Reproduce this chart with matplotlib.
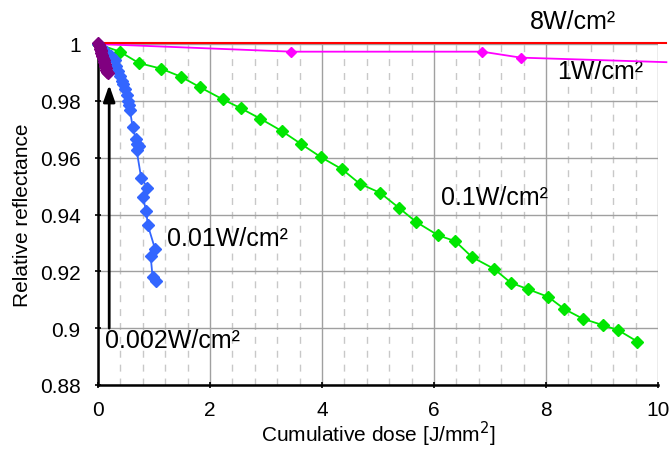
import matplotlib
matplotlib.use("Agg")
import matplotlib.pyplot as plt
from matplotlib.ticker import MultipleLocator

plt.rcParams["font.family"] = ["Liberation Sans", "DejaVu Sans"]

# 8 W/cm2
red_x = [0.0, 10.15]
red_y = [1.0005, 1.0005]

# 1 W/cm2
mag_x = [0.0, 3.45, 6.86, 7.55, 10.15]
mag_y = [1.0, 0.9973, 0.9973, 0.9952, 0.9936]

# 0.1 W/cm2
green_x = [0.0, 0.39, 0.73, 1.13, 1.48, 1.82, 2.23, 2.55, 2.90, 3.28, 3.62, 3.98,
           4.36, 4.67, 5.04, 5.37, 5.68, 6.07, 6.38, 6.68, 7.07, 7.37, 7.68, 8.04,
           8.33, 8.66, 9.01, 9.29, 9.63]
green_y = [1.0, 0.9973, 0.9933, 0.9913, 0.9885, 0.9848, 0.9805, 0.9774, 0.9737,
           0.9694, 0.9649, 0.9602, 0.9559, 0.9509, 0.9476, 0.9424, 0.9374, 0.9327,
           0.9306, 0.9250, 0.9209, 0.9160, 0.9137, 0.9110, 0.9067, 0.9033, 0.9011,
           0.8993, 0.8953]

# 0.01 W/cm2
blue_x = [0.0, 0.08, 0.15, 0.23, 0.30, 0.32, 0.35, 0.39, 0.42, 0.45, 0.48, 0.51,
          0.53, 0.56, 0.57, 0.62, 0.67, 0.70, 0.74, 0.69, 0.77, 0.88, 0.80, 0.86,
          0.89, 1.02, 0.94, 0.975, 1.03]
blue_y = [1.0, 0.9985, 0.9972, 0.9959, 0.9942, 0.9924, 0.9906, 0.9889, 0.9871,
          0.9860, 0.9842, 0.9819, 0.9801, 0.9784, 0.9766, 0.9708, 0.9667, 0.9649,
          0.9640, 0.9626, 0.9530, 0.9495, 0.9462, 0.9413, 0.9362, 0.9278, 0.9254,
          0.9179, 0.9167]

# 0.002 W/cm2
purple_x = [0.0, 0.01, 0.02, 0.03, 0.04, 0.05, 0.05, 0.06, 0.07, 0.08, 0.09, 0.10,
            0.11, 0.12, 0.13, 0.14, 0.15, 0.16, 0.17]
purple_y = [1.0005, 0.9998, 0.9995, 0.9990, 0.9984, 0.9980, 0.9975, 0.9970, 0.9963,
            0.9957, 0.9950, 0.9944, 0.9936, 0.9930, 0.9922, 0.9915, 0.9908, 0.9902,
            0.9897]

fig = plt.figure(figsize=(6.72, 4.52), dpi=100)
ax = fig.add_axes([98 / 672, 1 - 386 / 452, 560 / 672, 341 / 452])

ax.set_xlim(0, 10)
ax.set_ylim(0.88, 1.0)
ax.xaxis.set_major_locator(MultipleLocator(2))
ax.xaxis.set_minor_locator(MultipleLocator(0.4))
ax.yaxis.set_major_locator(MultipleLocator(0.02))
ax.yaxis.set_major_formatter(plt.FuncFormatter(lambda v, p: f"{v:g}"))

ax.grid(which="major", color="#a0a0a0", linewidth=1.0)
ax.grid(which="minor", axis="x", color="#c8c8c8", linewidth=1.0, linestyle=(0, (5, 5)))
ax.set_axisbelow(True)

for s in ["top", "right"]:
    ax.spines[s].set_visible(False)
for s in ["left", "bottom"]:
    ax.spines[s].set_linewidth(1.8)
    ax.spines[s].set_color("black")

ax.tick_params(which="major", direction="inout", length=5, width=1.2, labelsize=15)
ax.tick_params(axis="x", pad=8)
ax.tick_params(axis="y", pad=10)
ax.tick_params(which="minor", length=0)

ax.plot(red_x, red_y, color="#ff0000", linewidth=1.5, clip_on=False, zorder=5)
ax.plot(mag_x, mag_y, color="#ff00ff", linewidth=1.3, marker="D", markersize=5.5,
        markevery=[1, 2, 3], clip_on=False, zorder=4)
ax.plot(green_x, green_y, color="#00e600", linewidth=1.3, marker="D", markersize=6,
        clip_on=False, zorder=4)
ax.plot(blue_x, blue_y, color="#3366ff", linewidth=1.3, marker="D", markersize=6,
        clip_on=False, zorder=4)
ax.plot(purple_x, purple_y, color="#800080", linewidth=1.5, marker="D", markersize=6.5,
        clip_on=False, zorder=6)

ax.annotate("", xy=(0.2, 0.9856), xytext=(0.2, 0.9),
            arrowprops=dict(arrowstyle="-|>,head_width=0.35,head_length=1.0",
                            color="black", lw=2, shrinkA=0, shrinkB=0))

ax.text(7.71, 1.0081, "8W/cm²", fontsize=18, va="center", ha="left")
ax.text(8.2, 0.9905, "1W/cm²", fontsize=18, va="center", ha="left")
ax.text(6.12, 0.9463, "0.1W/cm²", fontsize=18, va="center", ha="left")
ax.text(1.23, 0.9316, "0.01W/cm²", fontsize=18, va="center", ha="left")
ax.text(0.125, 0.8958, "0.002W/cm²", fontsize=18, va="center", ha="left")

ax.set_xlabel("Cumulative dose [J/mm$^{2}$]", fontsize=15, labelpad=0)
ax.set_ylabel("Relative reflectance", fontsize=15, labelpad=6)

fig.savefig("out.png", dpi=100)
